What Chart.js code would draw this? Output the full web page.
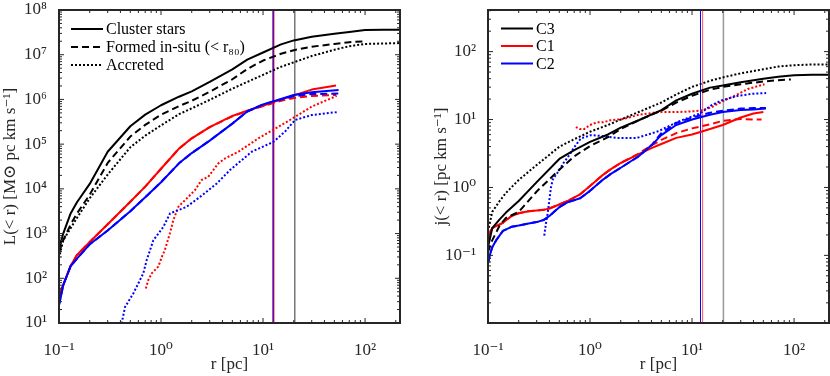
<!DOCTYPE html>
<html>
<head>
<meta charset="utf-8">
<script src="https://cdn.jsdelivr.net/npm/chart.js@4.4.1/dist/chart.umd.min.js"></script>
<style>
  html, body { margin: 0; padding: 0; background: #fff; }
  #wrap { position: relative; width: 830px; height: 376px; overflow: hidden; }
  canvas { position: absolute; top: 0; }
</style>
</head>
<body>
<div id="wrap">
  <canvas id="cl" width="415" height="376" style="left:0"></canvas>
  <canvas id="cr" width="415" height="376" style="left:415px"></canvas>
</div>
<script>
// ---------------- DATA ----------------
// Left panel: L(<r) [Msun pc km/s]
const rBlack = [0.1, 0.11, 0.13, 0.15, 0.2, 0.3, 0.5, 0.7, 1, 1.5, 2, 3, 5, 7, 10, 15, 20, 30, 50, 70, 100, 150, 220];
const rBlackInsitu = [0.1, 0.11, 0.13, 0.15, 0.2, 0.3, 0.5, 0.7, 1, 1.5, 2, 3, 5, 7, 10, 15, 20, 30, 50, 70, 100];
const L_C3_all = [447, 1000, 2820, 5010, 12900, 67600, 251000, 457000, 741000, 1.15e6, 1.51e6, 2.46e6, 4.68e6, 7.76e6, 1.12e7, 1.70e7, 2.09e7, 2.51e7, 2.95e7, 3.24e7, 3.55e7, 3.63e7, 3.63e7];
const L_C3_insitu = [380, 708, 1585, 2818, 7413, 38020, 147900, 269200, 457100, 707900, 933300, 1.48e6, 2.82e6, 4.79e6, 7.41e6, 1.05e7, 1.26e7, 1.51e7, 1.74e7, 1.91e7, 2.0e7];
const L_C3_acc = [282, 708, 1318, 2239, 6166, 20890, 85110, 154900, 263000, 467700, 631000, 977200, 1.74e6, 2.46e6, 3.55e6, 5.37e6, 6.76e6, 9.33e6, 1.29e7, 1.55e7, 1.74e7, 1.78e7, 1.82e7];

const rC1 = [0.1, 0.105, 0.11, 0.13, 0.15, 0.2, 0.3, 0.5, 0.7, 1, 1.5, 2, 3, 5, 7, 10, 15, 20, 30, 52];
const L_C1_all = [31.6, 56.2, 69.2, 190, 331, 646, 1620, 5130, 11200, 28200, 79400, 135000, 240000, 427000, 562000, 724000, 1.0e6, 1.23e6, 1.66e6, 2.04e6];
const L_C1_insitu = [31.6, 56.2, 69.2, 190, 331, 646, 1620, 5130, 11200, 28200, 79400, 135000, 240000, 417000, 550000, 708000, 933000, 1.07e6, 1.20e6, 1.26e6];
const rC2 = [0.1, 0.105, 0.11, 0.13, 0.15, 0.2, 0.3, 0.5, 0.7, 1, 1.5, 2, 3, 5, 7, 10, 15, 20, 30, 55];
const L_C2_all = [25.1, 41.7, 70.8, 186, 275, 575, 1175, 3160, 6460, 14100, 37200, 63100, 120000, 288000, 537000, 776000, 1.02e6, 1.26e6, 1.45e6, 1.62e6];
const L_C2_insitu = [25.1, 41.7, 70.8, 186, 275, 575, 1175, 3160, 6460, 14100, 37200, 63100, 120000, 288000, 537000, 776000, 1.0e6, 1.175e6, 1.32e6, 1.35e6];

const rC1_acc = [0.71, 0.75, 0.81, 0.94, 1.02, 1.09, 1.22, 1.32, 1.48, 1.85, 2.15, 2.5, 2.9, 3.65, 4.24, 5.73, 9.0, 12.6, 20.6, 30, 52.7];
const L_C1_acc = [58.9, 91.2, 129, 182, 302, 427, 1000, 2000, 3980, 6610, 9330, 15800, 18600, 37200, 47900, 67600, 135000, 209000, 407000, 692000, 1.20e6];
const rC2_acc = [0.398, 0.412, 0.444, 0.535, 0.670, 0.724, 0.841, 1.054, 1.225, 1.786, 2.41, 3.52, 4.74, 7.75, 12.6, 16.4, 20.6, 30, 54.7];
const L_C2_acc = [8, 10, 22.9, 45.7, 129, 257, 708, 1410, 2820, 3980, 6610, 13200, 26300, 67600, 112000, 190000, 347000, 447000, 525000];

// Right panel: j(<r) [pc km/s]
const rBlackJ = [0.1, 0.11, 0.13, 0.15, 0.2, 0.3, 0.5, 0.7, 1, 1.5, 2, 3, 5, 7, 10, 15, 20, 30, 50, 70, 100, 150, 220];
const rBlackJInsitu = [0.1, 0.11, 0.13, 0.15, 0.2, 0.3, 0.5, 0.7, 1, 1.5, 2, 3, 5, 7, 10, 15, 20, 30, 50, 70, 93];
const j_C3_all = [0.132, 0.251, 0.339, 0.427, 0.631, 1.20, 2.63, 3.55, 4.68, 6.03, 7.59, 9.77, 13.8, 19.1, 24.0, 29.5, 31.6, 35.5, 39.8, 42.7, 44.7, 45.7, 45.7];
const j_C3_insitu = [0.112, 0.166, 0.275, 0.355, 0.437, 0.871, 1.82, 2.88, 4.07, 5.50, 7.24, 9.77, 13.5, 17.8, 22.4, 27.5, 30.2, 33.1, 36.3, 38.0, 38.9];
const j_C3_acc = [0.224, 0.437, 0.631, 0.832, 1.29, 2.14, 3.98, 5.13, 6.61, 8.32, 10.0, 12.9, 17.8, 23.4, 30.2, 37.2, 41.7, 47.9, 55.0, 60.3, 63.1, 64.6, 64.6];

const rC1J = [0.1, 0.105, 0.11, 0.12, 0.14, 0.17, 0.2, 0.25, 0.3, 0.35, 0.4, 0.5, 0.6, 0.8, 1.0, 1.3, 1.6, 2, 3, 4, 5, 7, 10, 15, 20, 30, 40, 50];
const j_C1_all = [0.151, 0.219, 0.251, 0.269, 0.302, 0.380, 0.417, 0.447, 0.457, 0.468, 0.490, 0.562, 0.631, 0.794, 1.05, 1.48, 1.86, 2.29, 3.09, 3.80, 4.37, 5.37, 6.03, 7.24, 8.32, 10.7, 12.3, 12.9];
const rC1JInsitu = [0.1, 0.105, 0.11, 0.12, 0.14, 0.17, 0.2, 0.25, 0.3, 0.35, 0.4, 0.5, 0.6, 0.8, 1.0, 1.3, 1.6, 2, 3, 4, 5, 7, 10, 15, 20, 30, 40, 48];
const j_C1_insitu = [0.151, 0.219, 0.251, 0.269, 0.302, 0.380, 0.417, 0.447, 0.457, 0.468, 0.490, 0.562, 0.631, 0.794, 1.05, 1.48, 1.86, 2.29, 3.16, 4.17, 5.01, 6.31, 7.41, 8.51, 9.55, 10.2, 10.0, 10.0];
const rC2J = [0.1, 0.105, 0.11, 0.12, 0.14, 0.17, 0.2, 0.25, 0.3, 0.35, 0.4, 0.5, 0.6, 0.8, 1.0, 1.3, 1.6, 2, 3, 4, 5, 7, 10, 15, 20, 30, 40, 53];
const j_C2_all = [0.0759, 0.105, 0.132, 0.166, 0.229, 0.263, 0.275, 0.295, 0.309, 0.331, 0.380, 0.513, 0.603, 0.692, 0.891, 1.26, 1.585, 1.95, 2.88, 4.17, 5.89, 8.32, 10.0, 11.75, 12.9, 13.8, 14.1, 14.5];
const j_C2_insitu = [0.0759, 0.105, 0.132, 0.166, 0.229, 0.263, 0.275, 0.295, 0.309, 0.331, 0.380, 0.513, 0.603, 0.692, 0.891, 1.26, 1.585, 1.95, 2.88, 4.17, 6.31, 8.91, 10.7, 12.6, 13.5, 14.5, 14.8, 14.8];

const rC1J_acc = [0.726, 0.794, 0.875, 1.0, 1.178, 1.349, 1.589, 2.143, 3.0, 4.7, 7.35, 10, 12.0, 15.5, 19.4, 26.2, 35.3, 51.3];
const j_C1_acc = [7.76, 7.24, 7.24, 8.32, 9.12, 9.12, 9.77, 10.2, 11.75, 12.9, 12.9, 13.2, 13.5, 15.1, 18.2, 22.4, 28.2, 33.1];
const rC2J_acc = [0.356, 0.372, 0.384, 0.398, 0.414, 0.432, 0.481, 0.550, 0.601, 0.649, 0.698, 0.811, 1.016, 1.271, 1.845, 2.891, 3.899, 4.699, 7.345, 11.97, 15.49, 19.41, 28.18, 39.81, 53.2];
const j_C2_acc = [0.195, 0.316, 0.407, 0.631, 1.0, 1.318, 1.660, 2.291, 2.754, 3.236, 3.890, 5.248, 5.888, 5.754, 5.370, 5.370, 6.166, 6.761, 9.333, 12.30, 16.22, 19.05, 22.39, 23.99, 24.55];

// reference radii (vertical lines): [C2, C1, C3]
const vlineLeft = [12.5, 12.7, 20.5];
const vlineRight = [12.1, 12.7, 20.3];

// axis ranges
const xRange = [0.1, 220];
const yRangeLeft = [10, 1e8];
const yRangeRight = [0.0101, 410];

// legend labels
const legendLeft = ['Cluster stars', 'Formed in-situ (< r\u2088\u2080)', 'Accreted'];
const legendRight = ['C3', 'C1', 'C2'];

// ---------------- RENDERING ----------------
const FONT = "'Liberation Serif', 'DejaVu Serif', serif";
const INK = '#262626';
const RED = '#ff0000', BLUE = '#0000ff', BLACK = '#000000';
const DASH = [7, 4], DOT = [2, 2];
const SUP = {'-':'\u207b','0':'\u2070','1':'\u00b9','2':'\u00b2','3':'\u00b3','4':'\u2074','5':'\u2075','6':'\u2076','7':'\u2077','8':'\u2078','9':'\u2079'};

function powLabel(v) {
  const l = Math.log10(v), n = Math.round(l);
  if (Math.abs(l - n) > 1e-6) return '';
  return '10' + String(n).split('').map(c => SUP[c]).join('');
}
function pts(rs, vs) { return rs.map((r, i) => ({x: r, y: vs[i]})); }
function line(label, rs, vs, color, dash, width) {
  return {label, data: pts(rs, vs), borderColor: color, borderDash: dash || [], borderWidth: width || 2,
          pointRadius: 0, fill: false, tension: 0, borderCapStyle: 'butt', borderJoinStyle: 'round'};
}
function vline(label, r, yr, color, width) {
  return {label, data: [{x: r, y: yr[0]}, {x: r, y: yr[1]}], borderColor: color, borderWidth: width,
          pointRadius: 0, fill: false};
}

const framePlugin = {
  id: 'frame',
  afterDraw(chart) {
    const {ctx, chartArea: a, scales: {x, y}} = chart;
    ctx.save();
    ctx.strokeStyle = INK;
    ctx.lineWidth = 1;
    const ticks = (scale) => {
      const out = [];
      for (let e = Math.floor(Math.log10(scale.min)); e <= Math.ceil(Math.log10(scale.max)); e++) {
        for (let m = 1; m < 10; m++) {
          const v = m * Math.pow(10, e);
          if (v < scale.min * 0.9999 || v > scale.max * 1.0001) continue;
          out.push({p: scale.getPixelForValue(v), len: m === 1 ? 5 : 3});
        }
      }
      return out;
    };
    ctx.beginPath();
    ticks(x).forEach(t => {
      ctx.moveTo(t.p, a.bottom); ctx.lineTo(t.p, a.bottom - t.len);
      ctx.moveTo(t.p, a.top); ctx.lineTo(t.p, a.top + t.len);
    });
    ticks(y).forEach(t => {
      ctx.moveTo(a.left, t.p); ctx.lineTo(a.left + t.len, t.p);
      ctx.moveTo(a.right, t.p); ctx.lineTo(a.right - t.len, t.p);
    });
    ctx.stroke();
    ctx.lineWidth = 2;
    ctx.strokeRect(a.left, a.top, a.right - a.left, a.bottom - a.top);
    ctx.restore();
  }
};

const legendPlugin = {
  id: 'ilegend',
  afterDraw(chart, args, o) {
    const ctx = chart.ctx;
    ctx.save();
    o.items.forEach((it, i) => {
      const yy = o.y0 + i * o.dy;
      ctx.beginPath();
      ctx.setLineDash(it.dash || []);
      ctx.strokeStyle = it.color;
      ctx.lineWidth = 2;
      ctx.moveTo(o.x0, yy); ctx.lineTo(o.x0 + o.len, yy);
      ctx.stroke();
      ctx.setLineDash([]);
      ctx.fillStyle = '#000';
      ctx.font = '16px ' + FONT;
      ctx.textBaseline = 'middle';
      ctx.fillText(it.text, o.x0 + o.len + 3, yy + 1);
    });
    ctx.restore();
  }
};

function options(cfg) {
  return {
    responsive: false,
    animation: false,
    events: [],
    layout: {padding: {top: 10, right: cfg.padRight, left: 0, bottom: 0}},
    plugins: {
      legend: {display: false},
      tooltip: {enabled: false},
      ilegend: cfg.legend
    },
    scales: {
      x: {
        type: 'logarithmic', min: xRange[0], max: xRange[1],
        grid: {display: false}, border: {display: false},
        ticks: {autoSkip: false, maxRotation: 0, padding: 9, color: INK, font: {family: FONT, size: 17},
                callback: (v) => powLabel(v)},
        title: {display: true, text: 'r [pc]', color: INK, font: {family: FONT, size: 17}, padding: {top: 0, bottom: 1}},
        afterFit(s) { s.height = 53; s.paddingLeft = 0; s.paddingRight = 0; }
      },
      y: {
        type: 'logarithmic', min: cfg.yr[0], max: cfg.yr[1],
        grid: {display: false}, border: {display: false},
        ticks: {autoSkip: false, padding: 4, color: INK, font: {family: FONT, size: 17},
                callback: (v) => powLabel(v)},
        title: {display: true, text: cfg.ytitle, color: INK, font: {family: FONT, size: 17}, padding: {top: cfg.ytitlePad, bottom: 0}},
        afterFit(s) { s.width = cfg.yWidth; s.paddingTop = 0; s.paddingBottom = 0; }
      }
    }
  };
}

new Chart(document.getElementById('cl'), {
  type: 'line',
  data: {datasets: [
    line('C3 all', rBlack, L_C3_all, BLACK),
    line('C3 in-situ', rBlackInsitu, L_C3_insitu, BLACK, DASH),
    line('C3 accreted', rBlack, L_C3_acc, BLACK, DOT),
    line('C2 all', rC2, L_C2_all, BLUE),
    line('C2 in-situ', rC2, L_C2_insitu, BLUE, DASH),
    line('C2 accreted', rC2_acc, L_C2_acc, BLUE, DOT),
    line('C1 all', rC1, L_C1_all, RED),
    line('C1 in-situ', rC1, L_C1_insitu, RED, DASH),
    line('C1 accreted', rC1_acc, L_C1_acc, RED, DOT),
    vline('r C2', vlineLeft[0], yRangeLeft, BLUE, 1),
    vline('r C1', vlineLeft[1], yRangeLeft, RED, 1.5),
    vline('r C3', vlineLeft[2], yRangeLeft, '#333333', 1)
  ]},
  options: options({
    padRight: 15, yWidth: 59, yr: yRangeLeft, ytitlePad: 0,
    ytitle: 'L(< r) [M\u2299 pc km s\u207b\u00b9]',
    legend: {x0: 71, y0: 29, dy: 18, len: 32, items: [
      {text: legendLeft[0], color: BLACK},
      {text: legendLeft[1], color: BLACK, dash: DASH},
      {text: legendLeft[2], color: BLACK, dash: DOT}
    ]}
  }),
  plugins: [framePlugin, legendPlugin]
});

new Chart(document.getElementById('cr'), {
  type: 'line',
  data: {datasets: [
    line('C3 all', rBlackJ, j_C3_all, BLACK),
    line('C3 in-situ', rBlackJInsitu, j_C3_insitu, BLACK, DASH),
    line('C3 accreted', rBlackJ, j_C3_acc, BLACK, DOT),
    line('C2 all', rC2J, j_C2_all, BLUE),
    line('C2 in-situ', rC2J, j_C2_insitu, BLUE, DASH),
    line('C2 accreted', rC2J_acc, j_C2_acc, BLUE, DOT),
    line('C1 all', rC1J, j_C1_all, RED),
    line('C1 in-situ', rC1JInsitu, j_C1_insitu, RED, DASH),
    line('C1 accreted', rC1J_acc, j_C1_acc, RED, DOT),
    vline('r C2', vlineRight[0], yRangeRight, BLUE, 1),
    vline('r C1', vlineRight[1], yRangeRight, '#ff5555', 1),
    vline('r C3', vlineRight[2], yRangeRight, '#999999', 1.5)
  ]},
  options: options({
    padRight: 1, yWidth: 73, yr: yRangeRight, ytitlePad: 16,
    ytitle: 'j(< r) [pc km s\u207b\u00b9]',
    legend: {x0: 86, y0: 28.5, dy: 17.5, len: 32, items: [
      {text: legendRight[0], color: BLACK},
      {text: legendRight[1], color: RED},
      {text: legendRight[2], color: BLUE}
    ]}
  }),
  plugins: [framePlugin, legendPlugin]
});
</script>
</body>
</html>
